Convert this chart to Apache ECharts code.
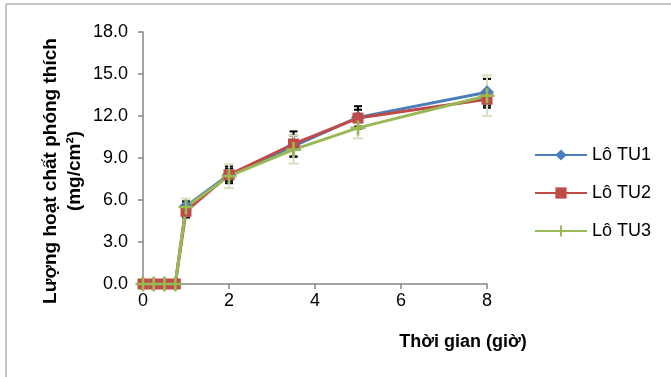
<!DOCTYPE html>
<html>
<head>
<meta charset="utf-8">
<script src="https://cdn.jsdelivr.net/npm/echarts@6/dist/echarts.min.js"></script>
<style>
  html, body { margin: 0; padding: 0; background: #fff; }
  #chart { width: 671px; height: 377px; }
</style>
</head>
<body>
<div id="chart"></div>
<script>
// thời gian lấy mẫu (giờ)
const timePoints = [0, 0.25, 0.5, 0.75, 1, 2, 3.5, 5, 8];
// lượng hoạt chất phóng thích (mg/cm2)
const tu1 = [0, 0, 0, 0, 5.55, 7.8, 9.85, 11.9, 13.7];
const tu2 = [0, 0, 0, 0, 5.2, 7.8, 10.0, 11.85, 13.2];
const tu3 = [0, 0, 0, 0, 5.5, 7.7, 9.6, 11.15, 13.45];
// độ lệch chuẩn
const err1 = [0, 0, 0, 0, 0.35, 0.45, 0.75, 0.8, 0.95];
const err2 = [0, 0, 0, 0, 0.45, 0.6, 0.9, 0.6, 0.6];
const err3 = [0, 0, 0, 0, 0.6, 0.85, 1.0, 0.75, 1.45];
const seriesNames = ['Lô TU1', 'Lô TU2', 'Lô TU3'];

const FONT = '"Liberation Sans", Arial, sans-serif';
const plusPath = 'path://M4.1,0H5.9V4.1H10V5.9H5.9V10H4.1V5.9H0V4.1H4.1Z';

let chart = echarts.init(document.getElementById('chart'), null, { renderer: 'canvas' });

const pairs = (ys) => timePoints.map((t, i) => [t, ys[i]]);
const errData = (ys, es) => timePoints.map((t, i) => [t, ys[i], es[i]]);

// thanh sai số
function errorSeries(ys, es, color, capHalf) {
    return {
        type: 'custom',
        z: 1,
        silent: true,
        data: errData(ys, es),
        renderItem: (params, api) => {
            const x = api.value(0), y = api.value(1), e = api.value(2);
            if (!e) return null;
            const top = api.coord([x, y + e]);
            const bot = api.coord([x, y - e]);
            const st = { stroke: color, lineWidth: 2 };
            return {
                type: 'group',
                children: [
                    { type: 'line', shape: { x1: top[0], y1: top[1], x2: bot[0], y2: bot[1] }, style: st },
                    { type: 'line', shape: { x1: top[0] - capHalf, y1: top[1], x2: top[0] + capHalf, y2: top[1] }, style: st },
                    { type: 'line', shape: { x1: bot[0] - capHalf, y1: bot[1], x2: bot[0] + capHalf, y2: bot[1] }, style: st }
                ]
            };
        }
    };
}

function lineSeries(name, ys, color, symbol, size) {
    return {
        name: name,
        type: 'line',
        z: 3,
        data: pairs(ys),
        symbol: symbol,
        symbolSize: size,
        showAllSymbol: true,
        lineStyle: { color: color, width: 3 },
        itemStyle: { color: color },
        emphasis: { disabled: true }
    };
}

const option = {
    animation: false,
    backgroundColor: '#fff',
    grid: { left: 143, right: 184, top: 32, bottom: 93 },
    legend: {
        data: seriesNames,
        orient: 'vertical',
        left: 534,
        top: 146,
        padding: 0,
        itemWidth: 52,
        itemHeight: 14,
        itemGap: 20,
        textStyle: { fontFamily: FONT, fontSize: 18, color: '#000' }
    },
    xAxis: {
        type: 'value',
        min: 0,
        max: 8,
        interval: 2,
        splitLine: { show: false },
        axisLine: { lineStyle: { color: '#868686', width: 1.5 } },
        axisTick: { show: true, length: 5, lineStyle: { color: '#868686', width: 1.5 } },
        axisLabel: { fontFamily: FONT, fontSize: 18, color: '#000', margin: 8 }
    },
    yAxis: {
        type: 'value',
        min: 0,
        max: 18,
        interval: 3,
        splitLine: { show: false },
        axisLine: { show: true, lineStyle: { color: '#868686', width: 1.5 } },
        axisTick: { show: true, length: 5, lineStyle: { color: '#868686', width: 1.5 } },
        axisLabel: { fontFamily: FONT, fontSize: 18, color: '#000', margin: 15,
            formatter: (v) => v.toFixed(1) }
    },
    graphic: [
        { type: 'rect', shape: { x: 6, y: 4, width: 720, height: 420 }, style: { fill: null, stroke: '#8c8c8c', lineWidth: 1 }, z: 0 },
        { type: 'text', x: 463, y: 342, style: { text: 'Thời gian (giờ)', align: 'center', verticalAlign: 'middle',
            font: 'bold 18px ' + FONT, fill: '#000' } },
        { type: 'text', x: 63, y: 171, rotation: Math.PI / 2,
            style: { text: 'Lượng hoạt chất phóng thích\n(mg/cm²)', align: 'center', verticalAlign: 'middle',
                font: 'bold 19px ' + FONT, lineHeight: 24, fill: '#000' } }
    ],
    series: [
        errorSeries(tu1, err1, '#000', 4),
        errorSeries(tu2, err2, '#000', 4),
        errorSeries(tu3, err3, '#d6e1bd', 5),
        lineSeries(seriesNames[0], tu1, '#4a7ebb', 'diamond', 14),
        lineSeries(seriesNames[1], tu2, '#be4b48', 'rect', 11),
        lineSeries(seriesNames[2], tu3, '#98b954', plusPath, 15)
    ]
};

chart.setOption(option);
</script>
</body>
</html>
